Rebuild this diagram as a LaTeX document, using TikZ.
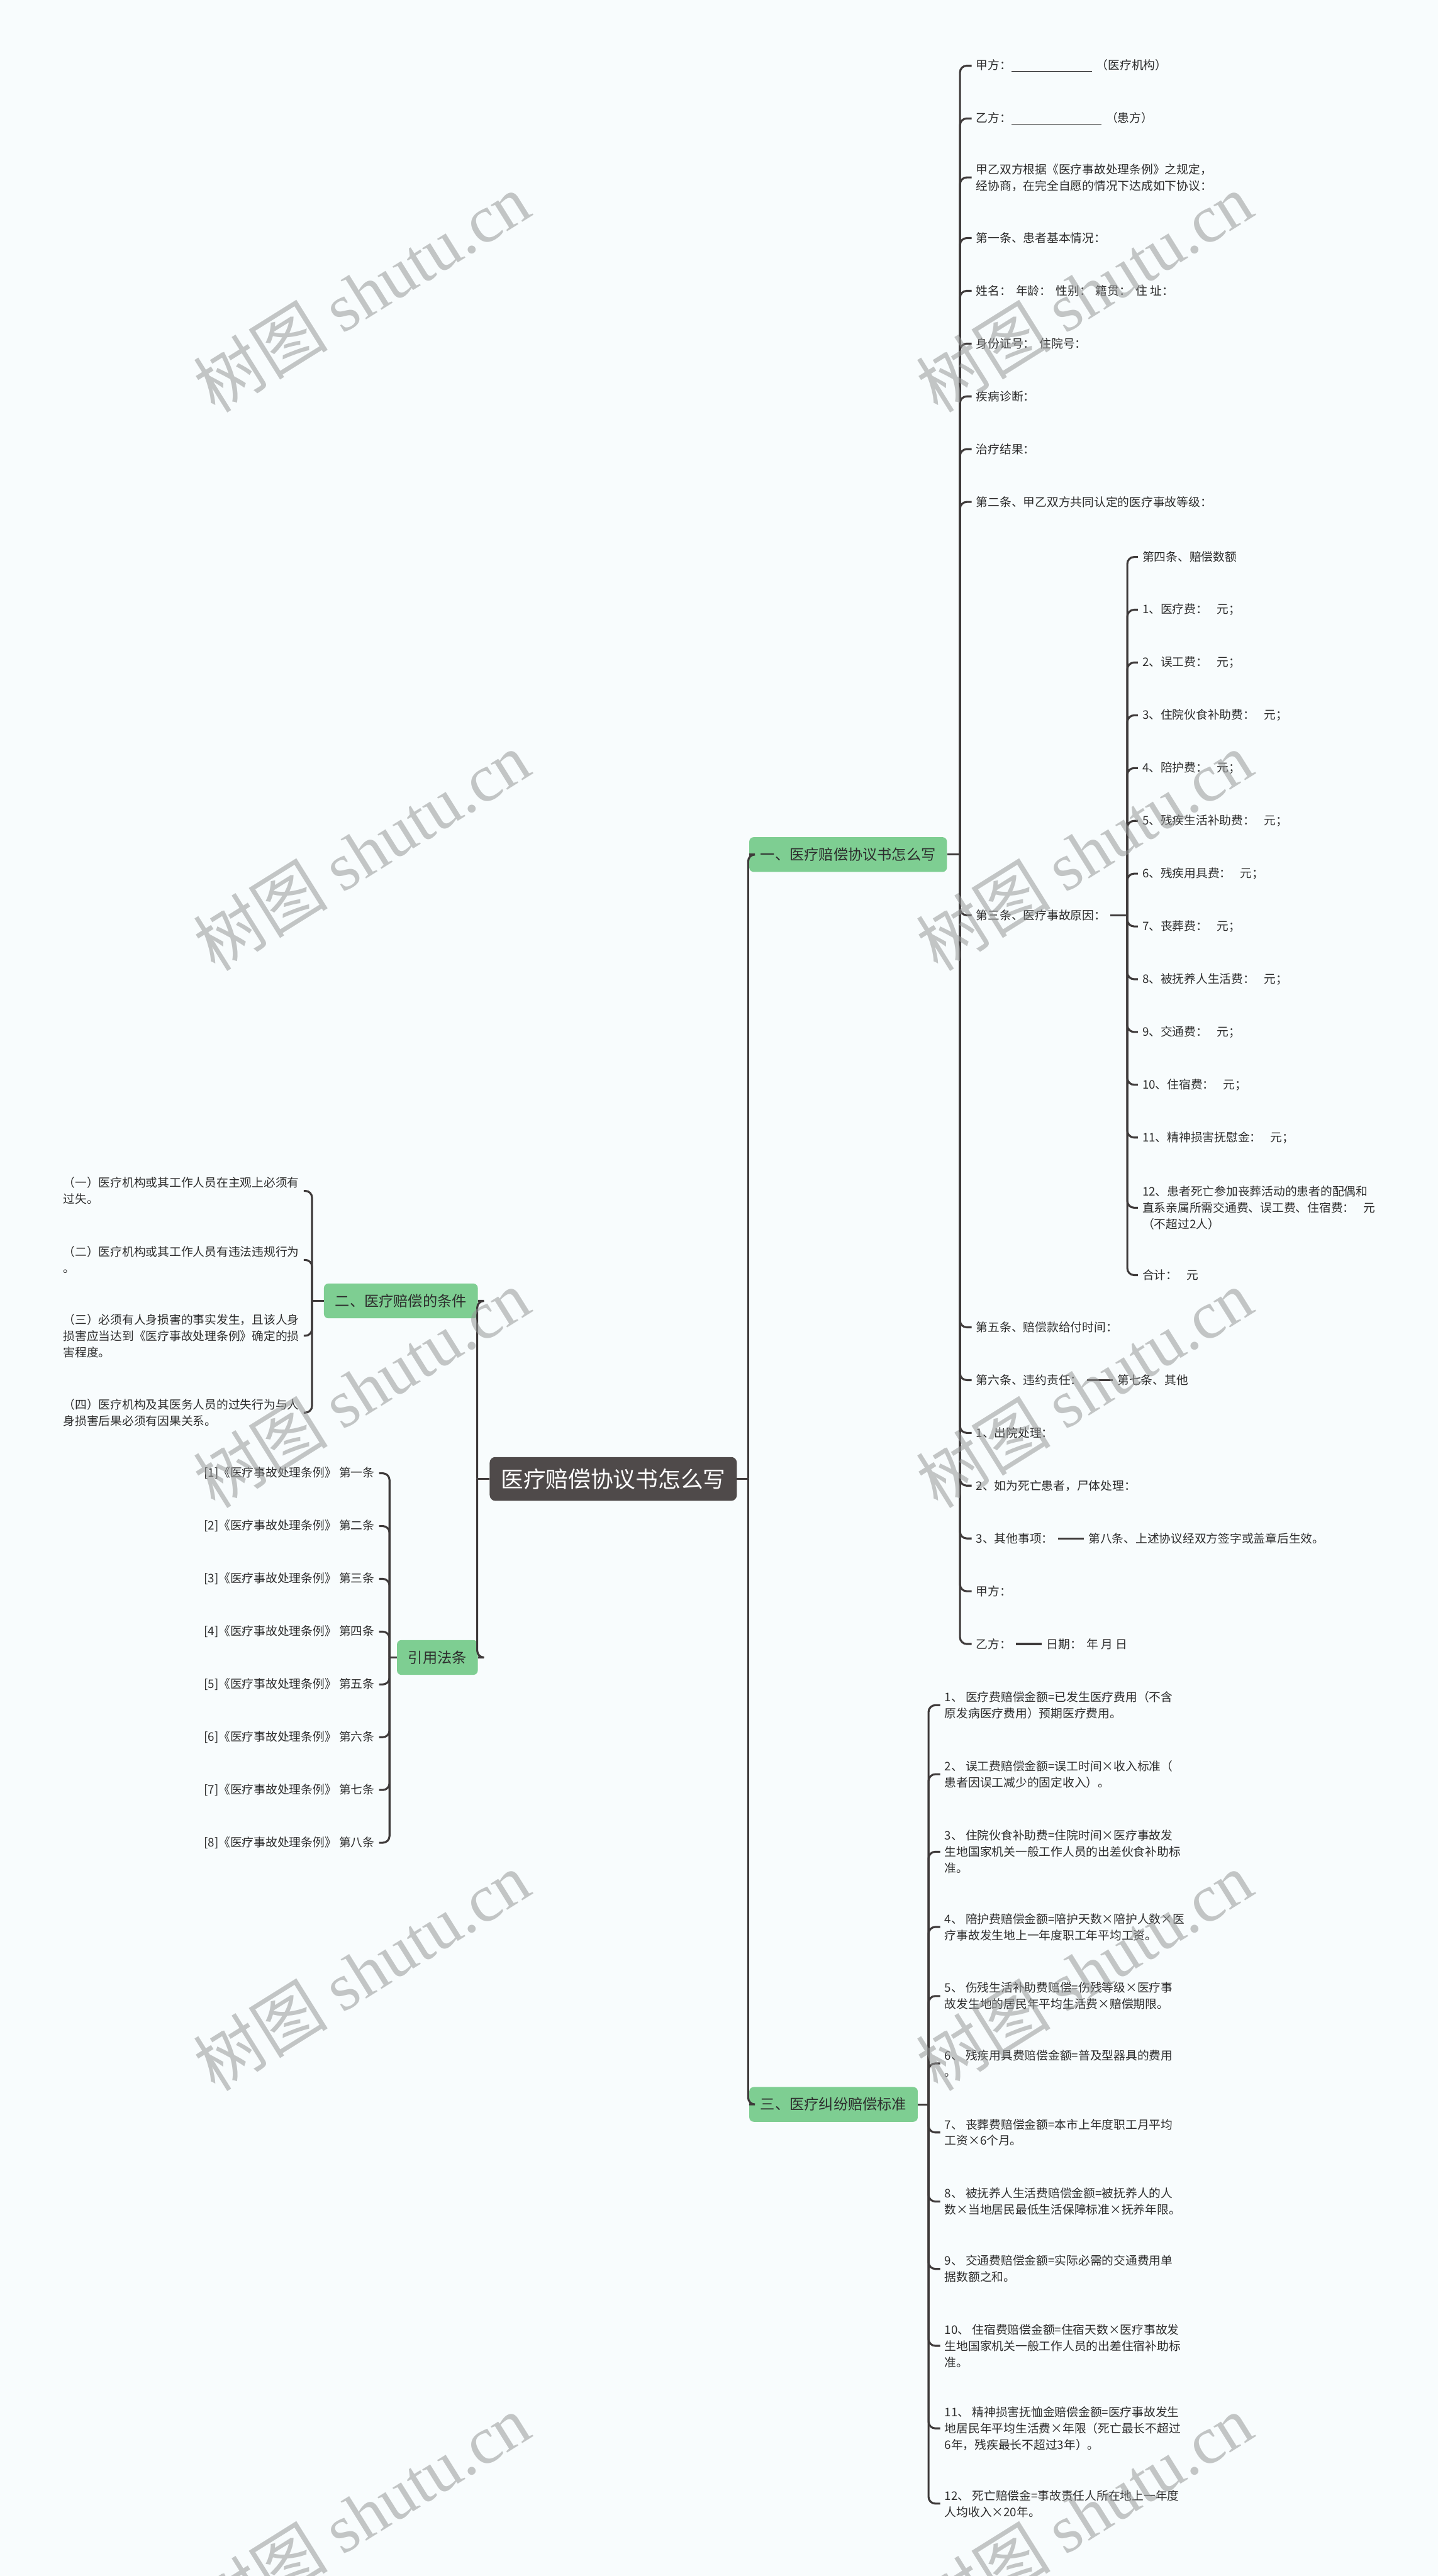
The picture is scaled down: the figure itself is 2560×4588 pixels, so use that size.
\documentclass[tikz,border=0pt]{standalone}
\usepackage{fontspec}
\setmainfont{Noto Sans CJK SC}
\newfontfamily\wmlatin{Liberation Serif}
\usetikzlibrary{positioning}
\definecolor{paper}{RGB}{248,252,253}
\definecolor{wire}{RGB}{62,58,58}
\definecolor{rootfill}{RGB}{79,74,74}
\definecolor{greenfill}{RGB}{126,206,146}
\definecolor{ink}{RGB}{45,45,45}
\definecolor{stamp}{RGB}{150,152,152}
\tikzset{
  link/.style={draw=wire,line width=3.5pt,rounded corners=12pt},
  topic/.style={fill=rootfill,text=white,rounded corners=10pt,inner xsep=20pt,minimum height=78pt,font=\fontsize{40}{48}\selectfont},
  branch/.style={fill=greenfill,text=ink,rounded corners=8pt,inner xsep=20pt,minimum height=62pt,font=\fontsize{26}{32}\selectfont},
  leaf/.style={text=ink,inner xsep=8pt,inner ysep=2pt,align=left,font=\fontsize{21}{29}\selectfont},
  wmark/.style={text=stamp,text opacity=.55,rotate=32,font=\fontsize{120}{140}\selectfont}
}

\begin{document}
\begin{tikzpicture}[x=1pt,y=-1pt]
  \path[use as bounding box,fill=paper] (0,0) rectangle (2560,4588);
  \node[topic] (R) at (1092,2634) {医疗赔偿协议书怎么写};
  \node[branch,anchor=west] (A) at (1334,1522) {一、医疗赔偿协议书怎么写};
  \node[branch,anchor=east] (B) at (851,2317) {二、医疗赔偿的条件};
  \node[branch,anchor=west] (C) at (1334,3748) {三、医疗纠纷赔偿标准};
  \node[branch,anchor=east] (D) at (851,2952) {引用法条};
  \draw[link] (R.west) -- ++(-22,0) coordinate (tl);
  \draw[link] (R.east) -- ++(20,0) coordinate (tr);
  \draw[link] (tl) |- (B.east);
  \draw[link] (tl) |- (D.east);
  \draw[link] (tr) |- (A.west);
  \draw[link] (tr) |- (C.west);

  \foreach \y/\txt [count=\i] in {
    117/{甲方：\rule[-4pt]{143pt}{1.3pt}\hspace{8pt}（医疗机构）},
    211/{乙方：\rule[-4pt]{160pt}{1.3pt}\hspace{8pt}（患方）},
    316/{甲乙双方根据《医疗事故处理条例》之规定，\\经协商，在完全自愿的情况下达成如下协议：},
    424/{第一条、患者基本情况：},
    518/{姓名：\hspace{8pt}年龄：\hspace{8pt}性别：\hspace{8pt}籍贯：\hspace{8pt}住 址：},
    612/{身份证号：\hspace{8pt}住院号：},
    706/{疾病诊断：},
    800/{治疗结果：},
    894/{第二条、甲乙双方共同认定的医疗事故等级：},
    1630/{第三条、医疗事故原因：},
    2364/{第五条、赔偿款给付时间：},
    2458/{第六条、违约责任：},
    2552/{1、出院处理：},
    2646/{2、如为死亡患者，尸体处理：},
    2740/{3、其他事项：},
    2834/{甲方：},
    2928/{乙方：}}
    \node[leaf,anchor=west] (a\i) at (1730,\y) {\txt};
  \draw[link] (A.east) -- ++(23,0) coordinate (ta);
  \foreach \i in {1,...,17}
    \draw[link] (ta) |- (a\i.west);
  \node[leaf,right=46pt of a12] (a12x) {第七条、其他};
  \node[leaf,right=46pt of a15] (a15x) {第八条、上述协议经双方签字或盖章后生效。};
  \node[leaf,right=46pt of a17] (a17x) {日期：\hspace{8pt}年 月 日};
  \draw[link] (a12) -- (a12x);
  \draw[link] (a15) -- (a15x);
  \draw[link] (a17) -- (a17x);

  \foreach \y/\txt [count=\i] in {
    992/{第四条、赔偿数额},
    1086/{1、医疗费：\hspace{16pt}元；},
    1180/{2、误工费：\hspace{16pt}元；},
    1274/{3、住院伙食补助费：\hspace{16pt}元；},
    1368/{4、陪护费：\hspace{16pt}元；},
    1462/{5、残疾生活补助费：\hspace{16pt}元；},
    1556/{6、残疾用具费：\hspace{16pt}元；},
    1650/{7、丧葬费：\hspace{16pt}元；},
    1744/{8、被抚养人生活费：\hspace{16pt}元；},
    1838/{9、交通费：\hspace{16pt}元；},
    1932/{10、住宿费：\hspace{16pt}元；},
    2026/{11、精神损害抚慰金：\hspace{16pt}元；},
    2151/{12、患者死亡参加丧葬活动的患者的配偶和\\直系亲属所需交通费、误工费、住宿费：\hspace{16pt}元\\（不超过2人）},
    2271/{合计：\hspace{16pt}元}}
    \node[leaf,anchor=west] (c\i) at (2026,\y) {\txt};
  \draw[link] (a10.east) -- ++(30,0) coordinate (tc);
  \foreach \i in {1,...,14}
    \draw[link] (tc) |- (c\i.west);

  \foreach \y/\txt [count=\i] in {
    3037/{1、 医疗费赔偿金额=已发生医疗费用（不含\\原发病医疗费用）预期医疗费用。},
    3160/{2、 误工费赔偿金额=误工时间×收入标准（\\患者因误工减少的固定收入）。},
    3298/{3、 住院伙食补助费=住院时间×医疗事故发\\生地国家机关一般工作人员的出差伙食补助标\\准。},
    3432/{4、 陪护费赔偿金额=陪护天数×陪护人数×医\\疗事故发生地上一年度职工年平均工资。},
    3555/{5、 伤残生活补助费赔偿=伤残等级×医疗事\\故发生地的居民年平均生活费×赔偿期限。},
    3675/{6、 残疾用具费赔偿金额=普及型器具的费用\\。},
    3798/{7、 丧葬费赔偿金额=本市上年度职工月平均\\工资×6个月。},
    3921/{8、 被抚养人生活费赔偿金额=被抚养人的人\\数×当地居民最低生活保障标准×抚养年限。},
    4041/{9、 交通费赔偿金额=实际必需的交通费用单\\据数额之和。},
    4178/{10、 住宿费赔偿金额=住宿天数×医疗事故发\\生地国家机关一般工作人员的出差住宿补助标\\准。},
    4325/{11、 精神损害抚恤金赔偿金额=医疗事故发生\\地居民年平均生活费×年限（死亡最长不超过\\6年，残疾最长不超过3年）。},
    4459/{12、 死亡赔偿金=事故责任人所在地上一年度\\人均收入×20年。}}
    \node[leaf,anchor=west] (f\i) at (1674,\y) {\txt};
  \draw[link] (C.east) -- ++(19,0) coordinate (tf);
  \foreach \i in {1,...,12}
    \draw[link] (tf) |- (f\i.west);

  \foreach \y/\txt [count=\i] in {
    2121/{（一）医疗机构或其工作人员在主观上必须有\\过失。},
    2244/{（二）医疗机构或其工作人员有违法违规行为\\。},
    2379/{（三）必须有人身损害的事实发生，且该人身\\损害应当达到《医疗事故处理条例》确定的损\\害程度。},
    2516/{（四）医疗机构及其医务人员的过失行为与人\\身损害后果必须有因果关系。}}
    \node[leaf,anchor=east] (b\i) at (541,\y) {\txt};
  \draw[link] (B.west) -- ++(-21,0) coordinate (tb);
  \foreach \i in {1,...,4}
    \draw[link] (tb) |- (b\i.east);

  \foreach \k [count=\i] in {一,二,三,四,五,六,七,八}
    \node[leaf,anchor=east] (d\i) at (675,2530+94*\i) {[\i]《医疗事故处理条例》 第{\k}条};
  \draw[link] (D.west) -- ++(-13,0) coordinate (td);
  \foreach \i in {1,...,8}
    \draw[link] (td) |- (d\i.east);

  \foreach \wy in {521,1516,2473,3511,4477}
    \foreach \wx in {644,1931}
      \node[wmark] (w) at (\wx,\wy) {树图 {\wmlatin shutu.cn}};
\end{tikzpicture}
\end{document}
